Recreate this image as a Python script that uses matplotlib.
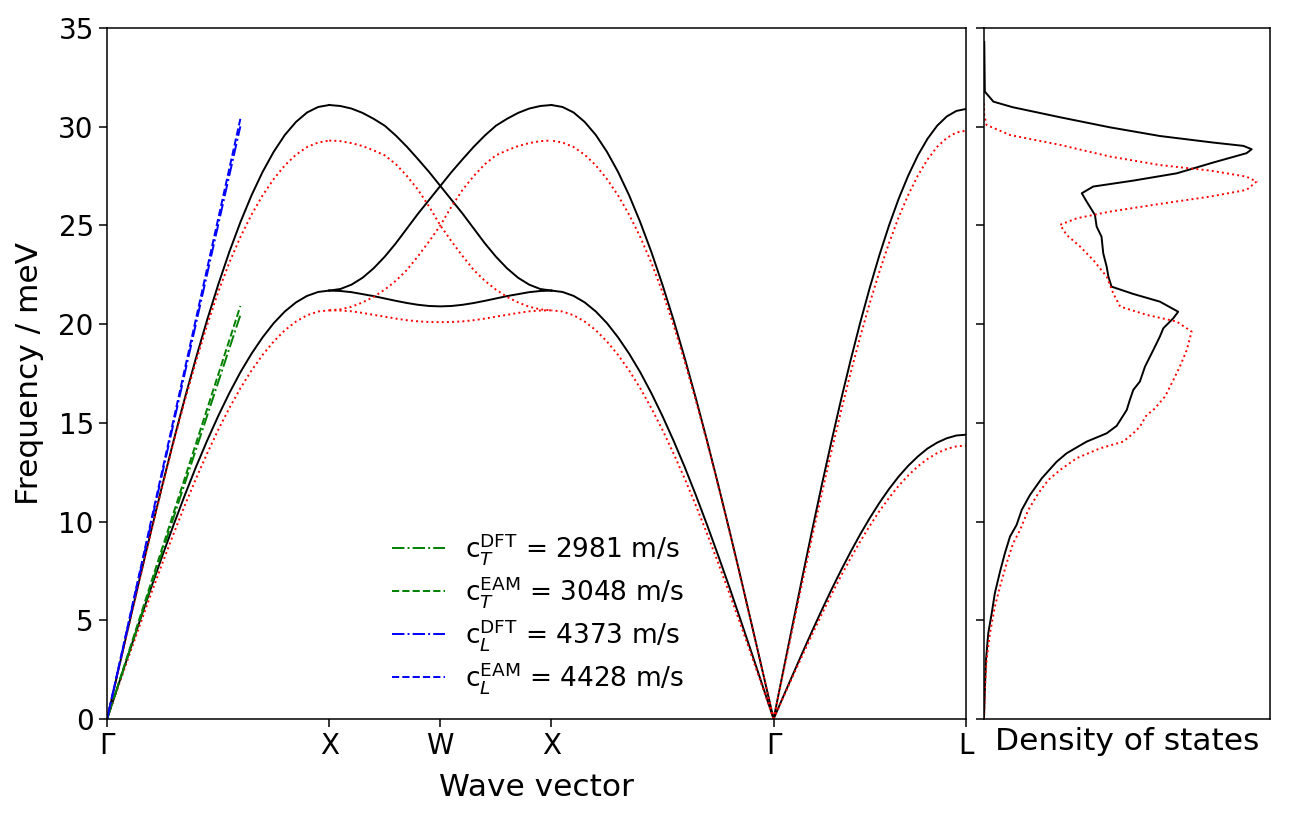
import matplotlib
matplotlib.use('Agg')
import matplotlib.pyplot as plt

plt.rcParams['font.family'] = ['DejaVu Sans']
plt.rcParams['mathtext.fontset'] = 'dejavusans'

# ---------------- data ----------------
# high-symmetry points along the path (units of 2*pi/a)
sym_labels = ['Γ', 'X', 'W', 'X', 'Γ', 'L']
sym_pos = [0.0, 1.0, 1.5, 2.0, 3.0, 3.866]

# fraction along a segment
q = [0.00, 0.05, 0.10, 0.15, 0.20, 0.25, 0.30, 0.35, 0.40, 0.45, 0.50,
     0.55, 0.60, 0.65, 0.70, 0.75, 0.80, 0.85, 0.90, 0.95, 1.00]

# Gamma-X (also used mirrored for X-Gamma)
dft_gx_la = [0.00, 2.44, 4.86, 7.26, 9.61, 11.90, 14.12, 16.25, 18.28, 20.20, 21.99,
             23.65, 25.16, 26.52, 27.71, 28.73, 29.58, 30.24, 30.72, 31.00, 31.10]
dft_gx_ta = [0.00, 1.70, 3.39, 5.06, 6.71, 8.30, 9.85, 11.34, 12.76, 14.09, 15.34,
             16.50, 17.56, 18.50, 19.33, 20.05, 20.64, 21.10, 21.43, 21.63, 21.70]
eam_gx_la = [0.00, 2.43, 4.84, 7.22, 9.56, 11.84, 14.05, 16.14, 18.10, 19.94, 21.62,
             23.11, 24.41, 25.54, 26.52, 27.35, 28.04, 28.58, 28.97, 29.20, 29.30]
eam_gx_ta = [0.00, 1.62, 3.24, 4.83, 6.40, 7.92, 9.40, 10.82, 12.17, 13.44, 14.64,
             15.74, 16.75, 17.65, 18.44, 19.12, 19.69, 20.13, 20.45, 20.64, 20.70]

# X-W-X (upper branch; the other crossing branch is its mirror image)
dft_xwx_up = [31.10, 31.05, 30.92, 30.70, 30.40, 30.05, 29.55, 28.98, 28.35, 27.70, 27.00,
              26.30, 25.60, 24.85, 24.10, 23.42, 22.83, 22.35, 22.00, 21.78, 21.70]
dft_xwx_low = [21.70, 21.68, 21.62, 21.52, 21.42, 21.30, 21.18, 21.07, 20.98, 20.92, 20.90,
               20.92, 20.98, 21.07, 21.18, 21.30, 21.42, 21.52, 21.62, 21.68, 21.70]
eam_xwx_up = [29.30, 29.27, 29.17, 29.02, 28.80, 28.55, 28.10, 27.50, 26.80, 25.95, 25.00,
              24.20, 23.45, 22.75, 22.20, 21.75, 21.38, 21.10, 20.88, 20.75, 20.70]
eam_xwx_low = [20.70, 20.69, 20.65, 20.57, 20.47, 20.38, 20.28, 20.20, 20.14, 20.11, 20.10,
               20.11, 20.14, 20.20, 20.28, 20.38, 20.47, 20.57, 20.65, 20.69, 20.70]

# Gamma-L
dft_gl_la = [0.00, 2.43, 4.83, 7.21, 9.55, 11.83, 14.03, 16.15, 18.16, 20.07, 21.85,
             23.50, 25.00, 26.35, 27.53, 28.55, 29.39, 30.05, 30.52, 30.80, 30.90]
dft_gl_ta = [0.00, 1.13, 2.25, 3.36, 4.45, 5.51, 6.54, 7.52, 8.46, 9.35, 10.18,
             10.95, 11.65, 12.28, 12.83, 13.30, 13.70, 14.00, 14.22, 14.36, 14.40]
eam_gl_la = [0.00, 2.34, 4.66, 6.96, 9.21, 11.40, 13.53, 15.57, 17.52, 19.35, 21.07,
             22.66, 24.11, 25.41, 26.55, 27.53, 28.34, 28.98, 29.43, 29.71, 29.80]
eam_gl_ta = [0.00, 1.09, 2.17, 3.23, 4.28, 5.30, 6.29, 7.24, 8.14, 8.99, 9.79,
             10.53, 11.20, 11.81, 12.34, 12.80, 13.17, 13.47, 13.68, 13.81, 13.85]

# sound-velocity lines near Gamma
sound_q = [0.0, 0.6]
cT_dft = [0.0, 20.46]
cT_eam = [0.0, 20.92]
cL_dft = [0.0, 30.02]
cL_eam = [0.0, 30.40]
sound_labels = [r'c$_{T}^{\rm DFT}$ = 2981 m/s', r'c$_{T}^{\rm EAM}$ = 3048 m/s',
                r'c$_{L}^{\rm DFT}$ = 4373 m/s', r'c$_{L}^{\rm EAM}$ = 4428 m/s']

# density of states (arbitrary units)
dos_dft_f = [0.00, 1.64, 2.99, 4.34, 5.35, 6.37, 7.46, 8.39, 9.24, 9.83, 10.59, 11.35, 12.19,
             13.03, 13.46, 14.05, 14.47, 14.85, 15.65, 16.16, 16.67, 17.09, 17.85, 18.69,
             19.37, 19.79, 20.30, 20.63, 21.14, 21.53, 21.90, 22.41, 22.91, 23.59, 24.43,
             24.94, 25.53, 26.21, 26.63, 26.97, 27.27, 27.64, 28.18, 28.66, 28.86, 29.03,
             29.20, 29.53, 29.97, 30.48, 30.99, 31.27, 31.78, 34.30]
dos_dft_g = [0.000, 0.0035, 0.007, 0.015, 0.027, 0.038, 0.056, 0.073, 0.091, 0.114, 0.132,
             0.161, 0.202, 0.254, 0.289, 0.359, 0.429, 0.464, 0.499, 0.510, 0.522, 0.545,
             0.563, 0.592, 0.615, 0.627, 0.662, 0.679, 0.615, 0.522, 0.446, 0.435, 0.429,
             0.417, 0.411, 0.394, 0.388, 0.359, 0.342, 0.382, 0.522, 0.674, 0.800, 0.918,
             0.936, 0.907, 0.800, 0.615, 0.440, 0.266, 0.100, 0.033, 0.003, 0.001]
dos_eam_f = [0.00, 1.64, 2.99, 4.34, 5.69, 6.70, 7.89, 8.90, 9.57, 10.59, 11.43, 12.11, 12.61,
             13.21, 13.71, 14.05, 14.47, 14.81, 15.40, 15.65, 16.33, 17.17, 17.85, 18.69,
             19.62, 20.13, 20.47, 20.89, 21.56, 22.41, 23.25, 23.93, 24.52, 25.03, 25.36,
             25.70, 26.09, 26.46, 26.80, 27.22, 27.47, 27.78, 28.06, 28.49, 29.08, 29.58,
             30.09, 30.60, 31.30]
dos_eam_g = [0.000, 0.0035, 0.009, 0.021, 0.038, 0.056, 0.079, 0.102, 0.126, 0.155, 0.190,
             0.225, 0.266, 0.324, 0.406, 0.487, 0.522, 0.545, 0.569, 0.592, 0.633, 0.662,
             0.685, 0.709, 0.726, 0.674, 0.569, 0.476, 0.452, 0.429, 0.382, 0.336, 0.289,
             0.266, 0.324, 0.440, 0.615, 0.790, 0.918, 0.953, 0.918, 0.790, 0.615, 0.440,
             0.266, 0.091, 0.009, 0.001, 0.000]

# ---------------- figure ----------------
fig = plt.figure(figsize=(12.93, 8.19), dpi=100)
ax = fig.add_axes([0.0828, 0.1221, 0.6643, 0.8437])
axd = fig.add_axes([0.7610, 0.1221, 0.2212, 0.8437])

G0, X1, W, X2, G1, L = sym_pos
x_gx = [G0 + v * (X1 - G0) for v in q]
x_xwx = [X1 + v * (X2 - X1) for v in q]
x_xg = [G1 - v * (G1 - X2) for v in q]
x_gl = [G1 + v * (L - G1) for v in q]

lw = 1.4
for style, col, la, ta, up, low, gla, gta in [
        ('-', 'black', dft_gx_la, dft_gx_ta, dft_xwx_up, dft_xwx_low, dft_gl_la, dft_gl_ta),
        (':', 'red', eam_gx_la, eam_gx_ta, eam_xwx_up, eam_xwx_low, eam_gl_la, eam_gl_ta)]:
    kw = dict(ls=style, color=col, lw=lw, solid_joinstyle='round')
    ax.plot(x_gx, la, **kw)
    ax.plot(x_gx, ta, **kw)
    ax.plot(x_xwx, up, **kw)
    ax.plot(x_xwx, up[::-1], **kw)
    ax.plot(x_xwx, low, **kw)
    ax.plot(x_xg, la, **kw)
    ax.plot(x_xg, ta, **kw)
    ax.plot(x_gl, gla, **kw)
    ax.plot(x_gl, gta, **kw)

ax.plot(sound_q, cT_dft, ls='-.', color='green', lw=1.4, label=sound_labels[0])
ax.plot(sound_q, cT_eam, ls='--', color='green', lw=1.4, label=sound_labels[1])
ax.plot(sound_q, cL_dft, ls='-.', color='blue', lw=1.4, label=sound_labels[2])
ax.plot(sound_q, cL_eam, ls='--', color='blue', lw=1.4, label=sound_labels[3])

ax.set_xlim(G0, L)
ax.set_ylim(0, 35)
ax.set_xticks(sym_pos)
ax.set_xticklabels(sym_labels)
ax.set_yticks([0, 5, 10, 15, 20, 25, 30, 35])
ax.tick_params(axis='both', direction='out', length=6, width=1.1, labelsize=20)
ax.set_xlabel('Wave vector', fontsize=22.5, labelpad=9)
ax.set_ylabel('Frequency / meV', fontsize=22.5, labelpad=10)
ax.legend(loc='upper left', bbox_to_anchor=(0.3197, 0.288), frameon=False, fontsize=19,
          handlelength=2.0, handletextpad=0.75, labelspacing=0.27, borderaxespad=0)

axd.plot(dos_dft_g, dos_dft_f, ls='-', color='black', lw=lw, solid_joinstyle='round')
axd.plot(dos_eam_g, dos_eam_f, ls=':', color='red', lw=lw)
axd.set_xlim(0, 1.0)
axd.set_ylim(0, 35)
axd.set_xticks([])
axd.set_yticks([0, 5, 10, 15, 20, 25, 30, 35])
axd.tick_params(axis='y', direction='out', length=6, width=1.1, labelleft=False)
axd.set_xlabel('Density of states', fontsize=22.5, labelpad=6)

for a in (ax, axd):
    for s in a.spines.values():
        s.set_linewidth(1.1)

fig.savefig('out.png', dpi=100)
